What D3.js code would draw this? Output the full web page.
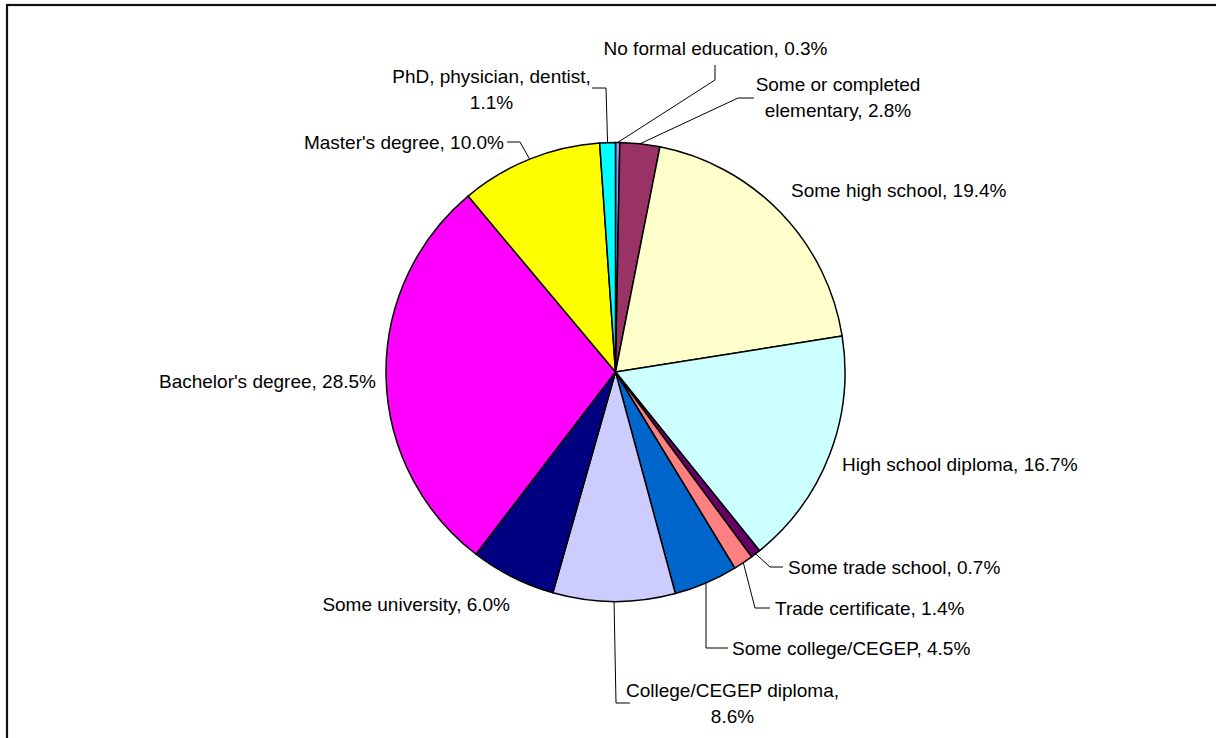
<!DOCTYPE html>
<html>
<head>
<meta charset="utf-8">
<script src="https://cdn.jsdelivr.net/npm/d3@7"></script>
<style>
  html, body { margin: 0; padding: 0; background: #fff; }
  svg { display: block; }
  text { font-family: "Liberation Sans", Arial, sans-serif; font-size: 19px; fill: #000; }
</style>
</head>
<body>
<svg id="chart" width="1216" height="738"></svg>
<script>
// Highest level of education completed (share of respondents, %)
const categories = [
  "No formal education",
  "Some or completed elementary",
  "Some high school",
  "High school diploma",
  "Some trade school",
  "Trade certificate",
  "Some college/CEGEP",
  "College/CEGEP diploma",
  "Some university",
  "Bachelor's degree",
  "Master's degree",
  "PhD, physician, dentist"
];
const values = [0.3, 2.8, 19.4, 16.7, 0.7, 1.4, 4.5, 8.6, 6.0, 28.5, 10.0, 1.1];
const colors = ["#9999FF", "#993366", "#FFFFCC", "#CCFFFF", "#660066", "#FF8080",
                "#0066CC", "#CCCCFF", "#000080", "#FF00FF", "#FFFF00", "#00FFFF"];

// Label placement: text lines, anchor, baseline of first line, and leader elbow points
const labelLayout = [
  { lines: ["No formal education, 0.3%"], x: 715.5, y: 55, anchor: "middle", leader: [[715, 80], [715, 65]] },
  { lines: ["Some or completed", "elementary, 2.8%"], x: 838, y: 91, anchor: "middle", leader: [[738, 98], [754, 98]] },
  { lines: ["Some high school, 19.4%"], x: 791, y: 197, anchor: "start" },
  { lines: ["High school diploma, 16.7%"], x: 842, y: 471, anchor: "start" },
  { lines: ["Some trade school, 0.7%"], x: 788, y: 574, anchor: "start", leader: [[770, 567], [783, 567]] },
  { lines: ["Trade certificate, 1.4%"], x: 775, y: 615, anchor: "start", leader: [[755, 608], [770, 608]] },
  { lines: ["Some college/CEGEP, 4.5%"], x: 732, y: 655, anchor: "start", leader: [[706, 648], [728, 648]] },
  { lines: ["College/CEGEP diploma,", "8.6%"], x: 732.5, y: 697, anchor: "middle", leader: [[616, 703], [630, 703]] },
  { lines: ["Some university, 6.0%"], x: 510, y: 611, anchor: "end" },
  { lines: ["Bachelor's degree, 28.5%"], x: 376, y: 388, anchor: "end" },
  { lines: ["Master's degree, 10.0%"], x: 504, y: 149, anchor: "end", leader: [[520, 142], [507, 142]] },
  { lines: ["PhD, physician, dentist,", "1.1%"], x: 491.5, y: 83, anchor: "middle", leader: [[606, 88], [592, 88]] }
];

const svg = d3.select("#chart");
const cx = 615.5, cy = 372, radius = 229.5;
const lineGap = 25.5;

// Outer frame (extends past the right and bottom edges of the view)
svg.append("rect")
  .attr("x", 7).attr("y", 5)
  .attr("width", 1300).attr("height", 800)
  .attr("fill", "none")
  .attr("stroke", "#111")
  .attr("stroke-width", 2.2);

const data = categories.map((c, i) => ({ category: c, value: values[i], color: colors[i], layout: labelLayout[i] }));

const pie = d3.pie().value(d => d.value).sort(null);
const arc = d3.arc().innerRadius(0).outerRadius(radius);
const arcs = pie(data);

const g = svg.append("g").attr("transform", `translate(${cx},${cy})`);

g.selectAll("path.slice")
  .data(arcs)
  .join("path")
  .attr("class", "slice")
  .attr("d", arc)
  .attr("fill", d => d.data.color)
  .attr("stroke", "#000")
  .attr("stroke-width", 1.5)
  .attr("stroke-linejoin", "round");

// Leader lines from slice edge midpoint to label
const line = d3.line();
svg.append("g").selectAll("path.leader")
  .data(arcs.filter(d => d.data.layout.leader))
  .join("path")
  .attr("class", "leader")
  .attr("d", d => {
    const mid = (d.startAngle + d.endAngle) / 2;
    const start = [cx + radius * Math.sin(mid), cy - radius * Math.cos(mid)];
    return line([start, ...d.data.layout.leader]);
  })
  .attr("fill", "none")
  .attr("stroke", "#000")
  .attr("stroke-width", 1);

// Labels
const labels = svg.append("g").selectAll("text.label")
  .data(arcs)
  .join("text")
  .attr("class", "label")
  .attr("text-anchor", d => d.data.layout.anchor);

labels.selectAll("tspan")
  .data(d => d.data.layout.lines.map((t, i) => ({ t, i, L: d.data.layout })))
  .join("tspan")
  .attr("x", d => d.L.x)
  .attr("y", d => d.L.y + d.i * lineGap)
  .text(d => d.t);
</script>
</body>
</html>
